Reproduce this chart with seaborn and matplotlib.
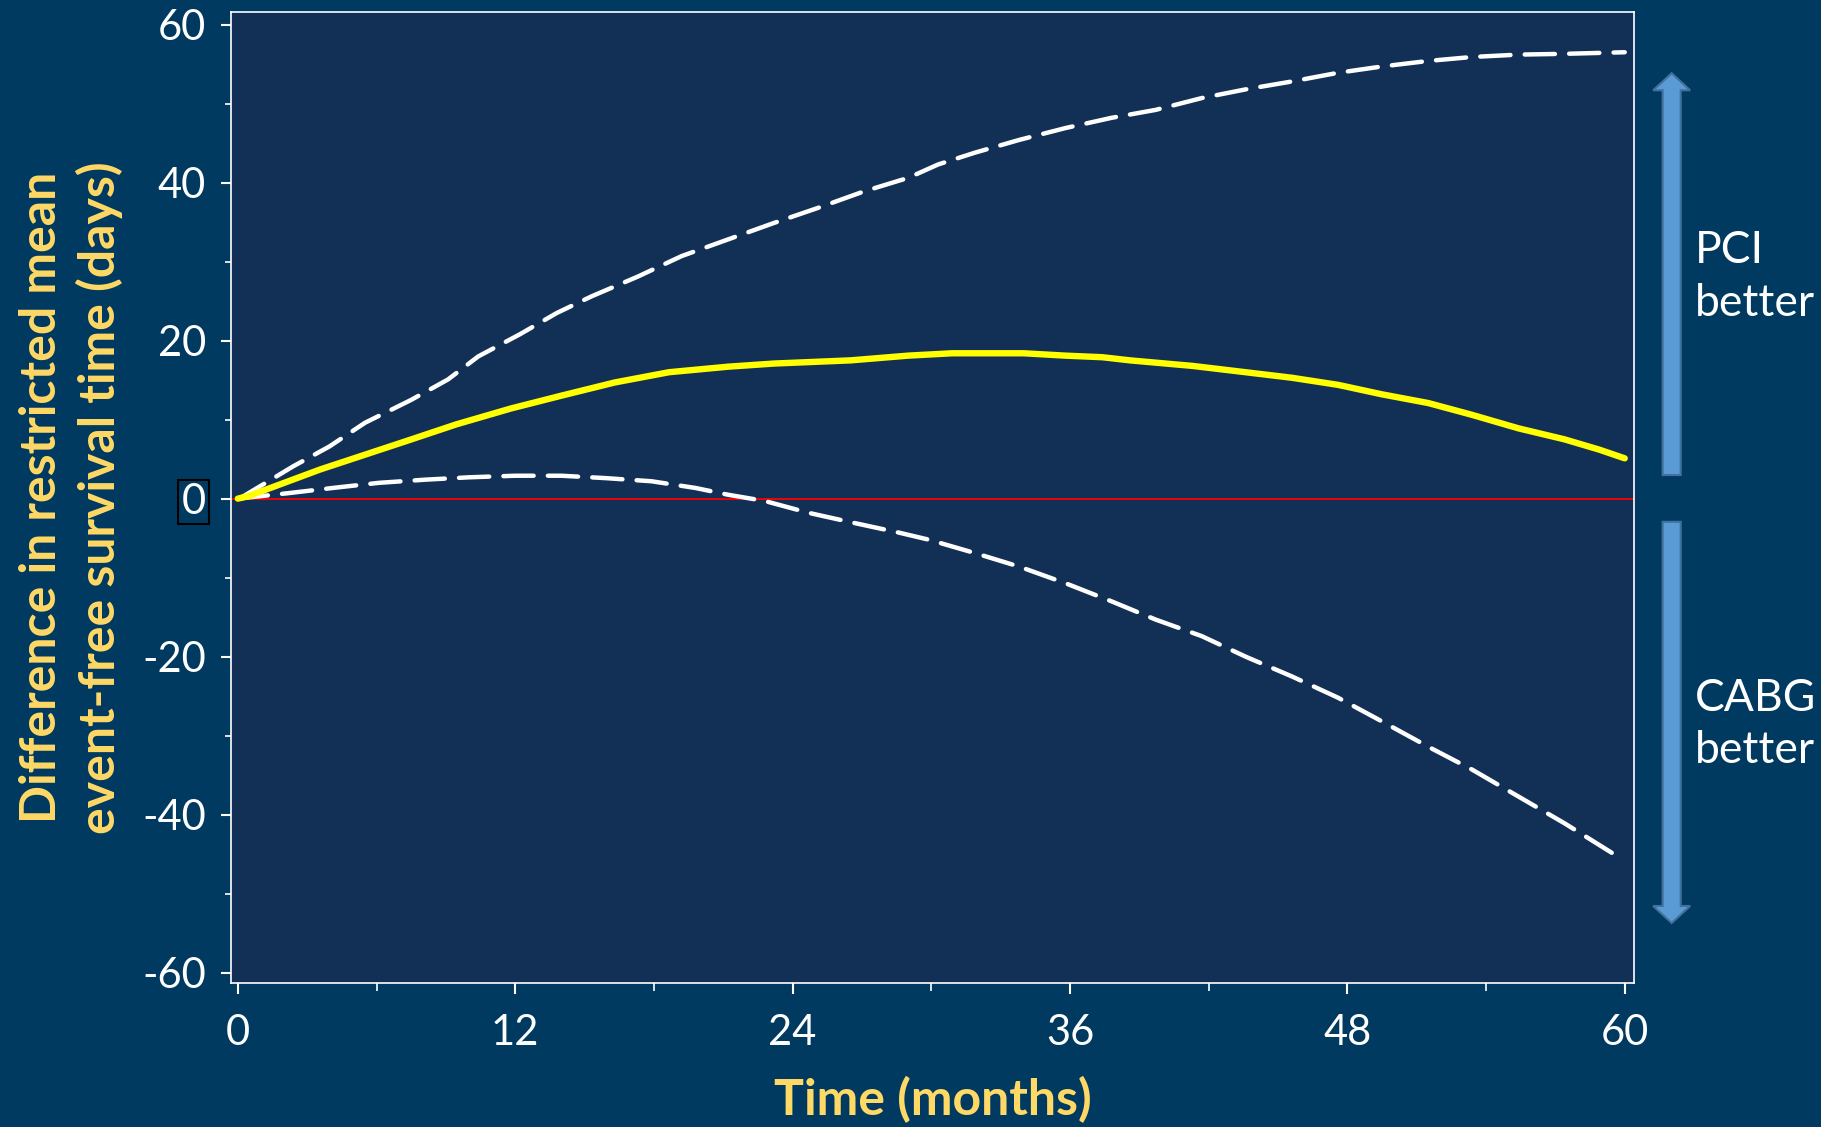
import matplotlib
matplotlib.use("Agg")
import matplotlib.pyplot as plt
from matplotlib.patches import FancyArrow
from matplotlib.ticker import MultipleLocator
import seaborn as sns
import pandas as pd

# restricted mean difference (PCI - CABG)
est_months = [0, 0.44, 3.57, 7.3, 9.45, 11.8, 13.95, 16.3, 18.65, 21.2, 23.2, 26.5,
              29.0, 30.9, 34.0, 35.8, 37.4, 38.6, 41.3, 43.6, 45.6, 47.6, 49.5,
              51.5, 53.4, 55.4, 57.4, 58.9, 60]
est_days = [0, 0.3, 3.7, 7.3, 9.4, 11.4, 13.0, 14.7, 16.0, 16.7, 17.1, 17.5,
            18.1, 18.4, 18.4, 18.1, 17.9, 17.5, 16.8, 16.0, 15.3, 14.4, 13.2,
            12.1, 10.6, 8.9, 7.5, 6.2, 5.1]

upper_months = [0, 0.24, 2.4, 3.96, 5.5, 7.5, 9.1, 10.4, 12.2, 13.8, 15.3, 17.3,
                19.2, 21.2, 23.2, 25.1, 27.1, 29.0, 30.3, 31.9, 33.8, 35.8, 37.8,
                39.7, 41.7, 43.6, 45.6, 47.6, 49.5, 51.5, 53.4, 55.4, 57.4, 60]
upper_days = [0, 0.3, 4.1, 6.6, 9.6, 12.5, 15.1, 18.0, 20.8, 23.5, 25.6, 28.1,
              30.7, 32.8, 34.9, 36.8, 38.9, 40.6, 42.3, 43.8, 45.4, 46.9, 48.2,
              49.2, 50.7, 51.8, 52.8, 53.9, 54.7, 55.4, 55.9, 56.2, 56.3, 56.5]

lower_months = [0, 2.2, 4.1, 6.1, 8.1, 10.0, 12.0, 14.0, 15.9, 17.9, 19.8, 21.2,
                22.8, 24.7, 26.7, 28.6, 29.9, 31.9, 33.8, 35.8, 37.8, 39.7, 41.7,
                43.6, 45.6, 47.6, 49.5, 51.5, 53.4, 55.4, 57.4, 59.7]
lower_days = [0, 0.7, 1.35, 2.0, 2.4, 2.7, 2.9, 2.9, 2.6, 2.2, 1.35, 0.5,
              -0.3, -1.8, -3.1, -4.3, -5.2, -6.9, -8.6, -10.7, -13.0, -15.3, -17.4,
              -20.0, -22.5, -25.2, -28.2, -31.4, -34.3, -37.7, -41.1, -45.3]

x_ticks = [0, 12, 24, 36, 48, 60]
y_ticks = [60, 40, 20, 0, -20, -40, -60]

fig_bg = '#013A60'
ax_bg = '#122F56'
gold = '#FFD966'

sns.set_theme(style='ticks')
plt.rcParams['font.family'] = ['Lato', 'DejaVu Sans']
plt.rcParams['axes.unicode_minus'] = False

fig = plt.figure(figsize=(18.21, 11.27), dpi=100, facecolor=fig_bg)
ax = fig.add_axes([0.1268, 0.1278, 0.7705, 0.8616])
ax.set_facecolor(ax_bg)

est = pd.DataFrame({'month': est_months, 'days': est_days})
upr = pd.DataFrame({'month': upper_months, 'days': upper_days})
lwr = pd.DataFrame({'month': lower_months, 'days': lower_days})

#reference line at zero
ax.axhline(0, color='red', lw=1.3, zorder=1)

sns.lineplot(data=upr, x='month', y='days', ax=ax, color='white', lw=3.2,
             linestyle=(0, (6.8, 3.2)), dash_capstyle='round', zorder=3)
sns.lineplot(data=lwr, x='month', y='days', ax=ax, color='white', lw=3.2,
             linestyle=(0, (6.8, 3.2)), dash_capstyle='round', zorder=3)
sns.lineplot(data=est, x='month', y='days', ax=ax, color='#FFFF00', lw=4.6,
             solid_capstyle='round', zorder=4)

ax.set_xlim(-0.3, 60.4)
ax.set_ylim(-61.3, 61.6)
ax.set_xticks(x_ticks)
ax.set_yticks(y_ticks)
ax.xaxis.set_minor_locator(MultipleLocator(6))
ax.yaxis.set_minor_locator(MultipleLocator(10))

for s in ax.spines.values():
    s.set_color('white')
    s.set_linewidth(1.2)

ax.tick_params(axis='both', which='major', colors='white', labelsize=30,
               length=7, width=1.5, direction='out')
ax.tick_params(axis='both', which='minor', colors='white', length=4, width=1.2,
               direction='out')
ax.tick_params(axis='x', which='major', length=8, pad=14)
ax.tick_params(axis='x', which='minor', length=6)
ax.tick_params(axis='y', which='major', pad=11)

#box round the zero label
for lab in ax.get_yticklabels():
    if lab.get_text() == '0':
        lab.set_bbox(dict(boxstyle='square,pad=0.08', fc='none', ec='black', lw=1.5))

ax.set_xlabel('Time (months)', color=gold, fontsize=36, fontweight='bold', labelpad=18)
ax.set_ylabel('Difference in restricted mean\nevent-free survival time (days)',
              color=gold, fontsize=36, fontweight='bold', labelpad=14, linespacing=1.3)

#arrows on the right
arr_kw = dict(width=0.0099, head_width=0.0203, head_length=0.0151,
              length_includes_head=True, fc='#5B9BD5', ec='#41719C', lw=1.5,
              transform=fig.transFigure)
fig.patches.append(FancyArrow(0.918, 0.5785, 0, 0.3565, **arr_kw))
fig.patches.append(FancyArrow(0.918, 0.537, 0, -0.356, **arr_kw))

fig.text(0.931, 0.754, 'PCI\nbetter', color='white', fontsize=32, va='center',
         ha='left', linespacing=1.35)
fig.text(0.931, 0.357, 'CABG\nbetter', color='white', fontsize=32, va='center',
         ha='left', linespacing=1.35)

fig.savefig('out.png', dpi=100, facecolor=fig_bg)
